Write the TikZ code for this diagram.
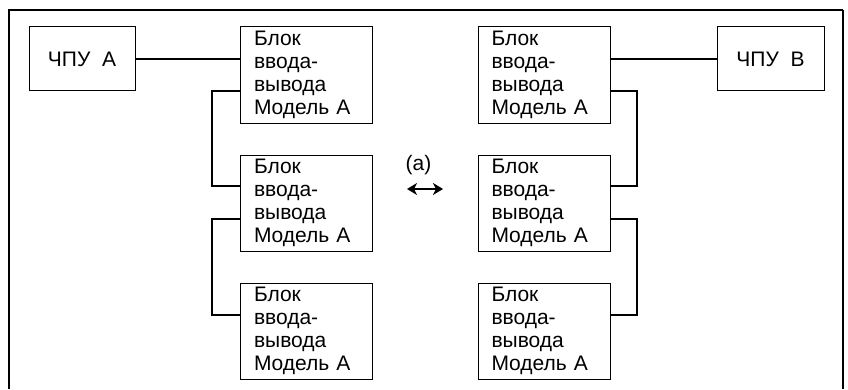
\documentclass[tikz,border=0pt]{standalone}
\usepackage{fontspec}
\setmainfont{Liberation Sans}
\usetikzlibrary{arrows.meta}

\begin{document}
\begin{tikzpicture}[x=1pt,y=1pt,
 every node/.style = {font=\fontsize{21}{23}\selectfont},
 cnc/.style = {shape=rectangle, draw, line width=1pt, minimum width=106pt, minimum height=64pt},
 iobox/.style = {shape=rectangle, draw, line width=1pt, align=left, text width=105pt,
   inner xsep=13.5pt, inner ysep=0pt, minimum height=96pt},
 bus/.style = {line width=2pt}]
 \useasboundingbox (0,0) rectangle (848,389);
 % frame, cut off at the bottom
 \draw[line width=2pt] (9,0) -- (9,379) -- (843,379);
 \draw[line width=1.2pt] (843,379) -- (843,0);

 \node[cnc] (cncA) at (82,330) {ЧПУ\ \ А};
 \node[cnc, minimum width=107pt] (cncB) at (770.5,330) {ЧПУ\ \ В};

 \node[iobox] (ioA1) at (306.5,314) {Блок\\ввода-\\вывода\\Модель А};
 \node[iobox] (ioA2) at (306.5,186) {Блок\\ввода-\\вывода\\Модель А};
 \node[iobox] (ioA3) at (306.5,58) {Блок\\ввода-\\вывода\\Модель А};
 \node[iobox] (ioB1) at (544,314) {Блок\\ввода-\\вывода\\Модель А};
 \node[iobox] (ioB2) at (544,186) {Блок\\ввода-\\вывода\\Модель А};
 \node[iobox] (ioB3) at (544,58) {Блок\\ввода-\\вывода\\Модель А};

 \draw[bus] (cncA.east) -- (cncA.east -| ioA1.west);
 \draw[bus] (cncB.west) -- (cncB.west -| ioB1.east);
 \draw[bus] ([yshift=-16pt]ioA1.west) -- ++(-28,0) |- ([yshift=17pt]ioA2.west);
 \draw[bus] ([yshift=-16pt]ioA2.west) -- ++(-28,0) |- ([yshift=16pt]ioA3.west);
 \draw[bus] ([yshift=-16pt]ioB1.east) -- ++(26,0) |- ([yshift=17pt]ioB2.east);
 \draw[bus] ([yshift=-16pt]ioB2.east) -- ++(26,0) |- ([yshift=16pt]ioB3.east);

 \node (swap) at (418.5,224) {(a)};
 \coordinate (swapL) at (407,200);
 \coordinate (swapR) at (443,200);
 \draw[line width=1.6pt, {Stealth[length=10pt,width=12pt,inset=3pt]}-{Stealth[length=10pt,width=12pt,inset=3pt]}]
   (swapL) -- (swapR);
\end{tikzpicture}
\end{document}
